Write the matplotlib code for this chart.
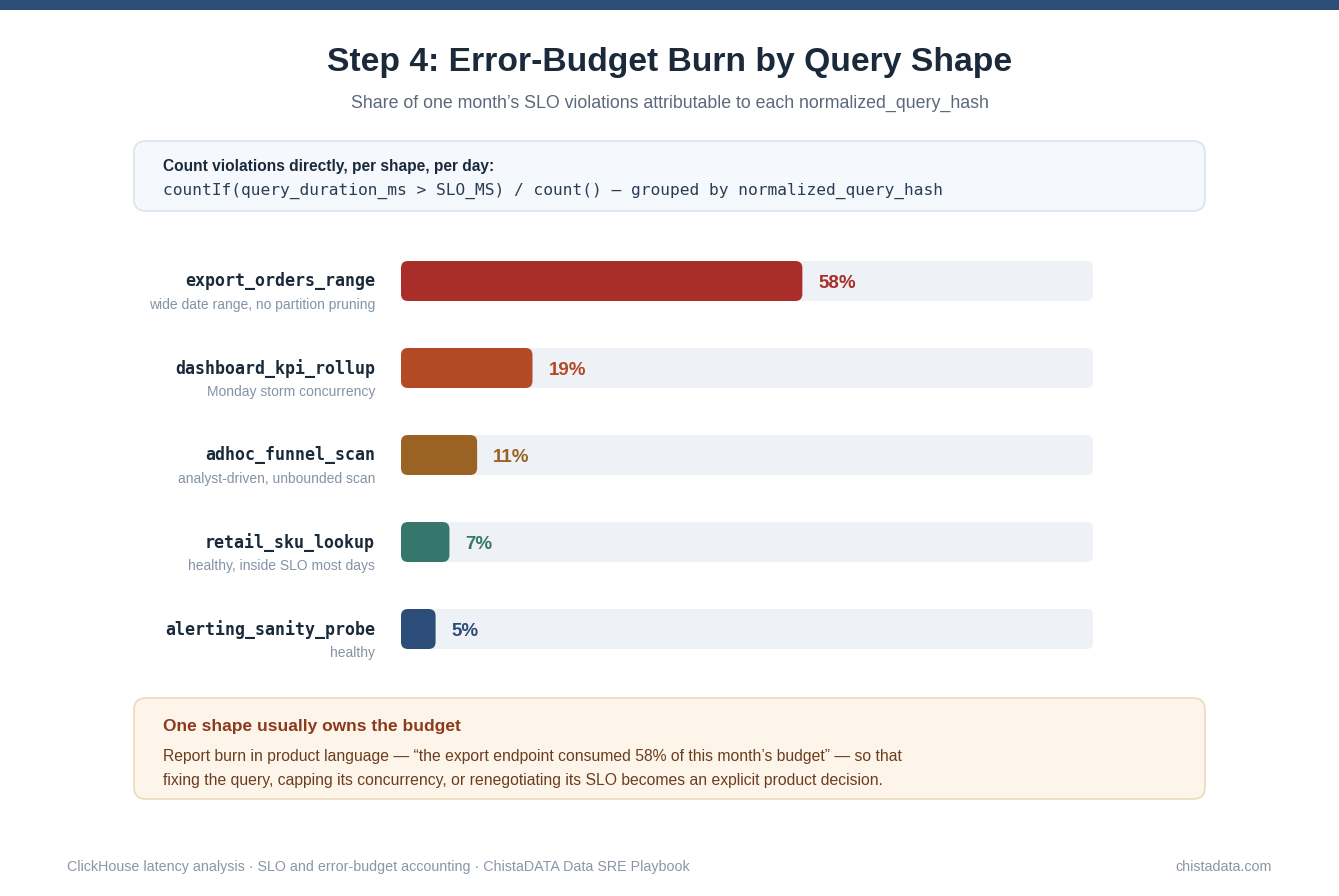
import matplotlib
matplotlib.use("Agg")
import matplotlib.pyplot as plt
from matplotlib.patches import FancyBboxPatch, Rectangle

# data
shapes = ["export_orders_range", "dashboard_kpi_rollup", "adhoc_funnel_scan",
          "retail_sku_lookup", "alerting_sanity_probe"]
notes = ["wide date range, no partition pruning", "Monday storm concurrency",
         "analyst-driven, unbounded scan", "healthy, inside SLO most days", "healthy"]
share = [58, 19, 11, 7, 5]
colors = ["#a92d29", "#b44a25", "#9a6324", "#36776d", "#2b4d77"]

W, H = 1339, 896
plt.rcParams['font.family'] = ['Liberation Sans', 'DejaVu Sans']
fig = plt.figure(figsize=(W / 100, H / 100), dpi=100)
fig.patch.set_facecolor("white")

# overlay axes in pixel coordinates
ov = fig.add_axes([0, 0, 1, 1])
ov.set_xlim(0, W)
ov.set_ylim(H, 0)
ov.axis("off")

ov.add_patch(Rectangle((0, 0), W, 10, color="#2d4e76", lw=0))
ov.text(W / 2, 62, "Step 4: Error-Budget Burn by Query Shape", ha="center", va="center",
        fontsize=24.2, fontweight="bold", color="#1b2a3b")
ov.text(W / 2, 103, "Share of one month\u2019s SLO violations attributable to each normalized_query_hash",
        ha="center", va="center", fontsize=12.8, color="#5b6879")

# code box
ov.add_patch(FancyBboxPatch((134, 141), 1071, 70, boxstyle="round,pad=0,rounding_size=12",
                            fc="#f5f8fc", ec="#dbe3ec", lw=1.2))
ov.text(163, 166, "Count violations directly, per shape, per day:", ha="left", va="center",
        fontsize=11.2, fontweight="bold", color="#1b2a3b")
ov.text(163, 191, "countIf(query_duration_ms > SLO_MS) / count() \u2014 grouped by normalized_query_hash",
        ha="left", va="center", fontsize=11.7, family="DejaVu Sans Mono", color="#2a3d55")

# callout box
ov.add_patch(FancyBboxPatch((134, 698), 1071, 101, boxstyle="round,pad=0,rounding_size=12",
                            fc="#fdf5ea", ec="#ecdab9", lw=1.2))
ov.text(163, 727, "One shape usually owns the budget", ha="left", va="center",
        fontsize=12.5, fontweight="bold", color="#8b3a1d")
ov.text(163, 757, "Report burn in product language \u2014 \u201cthe export endpoint consumed 58% of this month\u2019s budget\u201d \u2014 so that",
        ha="left", va="center", fontsize=11.3, color="#6b3d1e")
ov.text(163, 781, "fixing the query, capping its concurrency, or renegotiating its SLO becomes an explicit product decision.",
        ha="left", va="center", fontsize=11.3, color="#6b3d1e")

# footer
ov.text(67, 867, "ClickHouse latency analysis \u00b7 SLO and error-budget accounting \u00b7 ChistaDATA Data SRE Playbook",
        ha="left", va="center", fontsize=10.3, color="#8a96a6")
ov.text(1272, 867, "chistadata.com", ha="right", va="center", fontsize=10.3, color="#8a96a6")

# bar axes
top, bottom = 237.5, 672.5
left, right = 401, 1093
ax = fig.add_axes([left / W, 1 - bottom / H, (right - left) / W, (bottom - top) / H])
ax.set_xlim(0, 100)
ax.set_ylim(len(shapes) - 0.5, -0.5)
ax.axis("off")

xu = 100 / (right - left)
yu = len(shapes) / (bottom - top)
asp = yu / xu
bh = 40 * yu

ypos = list(range(len(shapes)))
tracks = ax.barh(ypos, [100] * len(shapes), height=bh, color="#eef1f6")
bars = ax.barh(ypos, share, height=bh, color=colors)
for group, r in [(tracks, 6), (bars, 7)]:
    for rect in group:
        p = FancyBboxPatch((rect.get_x(), rect.get_y()), rect.get_width(), rect.get_height(),
                           boxstyle="round,pad=0,rounding_size=%f" % (r * xu),
                           mutation_aspect=asp, fc=rect.get_facecolor(), ec="none",
                           zorder=rect.get_zorder())
        rect.remove()
        ax.add_patch(p)

for i, (v, c) in enumerate(zip(share, colors)):
    ax.text(v + 16 * xu, i + 2.5 * yu, "%d%%" % v, ha="left", va="center",
            fontsize=13.5, fontweight="bold", color=c)
    yc = top + (i + 0.5) * (bottom - top) / len(shapes)
    ov.text(375, yc + 0.5, shapes[i], ha="right", va="center", fontsize=12,
            fontweight="bold", family="DejaVu Sans Mono", color="#1b2a3b")
    ov.text(375, yc + 24, notes[i], ha="right", va="center", fontsize=10, color="#8493a5")

fig.savefig("out.png", dpi=100, facecolor="white")
